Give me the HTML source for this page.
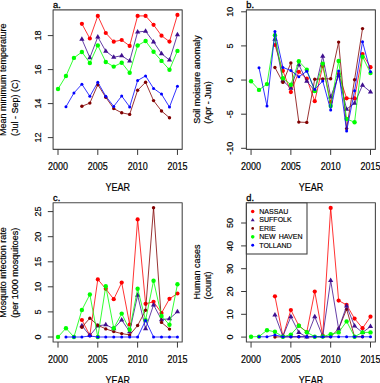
<!DOCTYPE html><html><head><meta charset="utf-8"><style>html,body{margin:0;padding:0;background:#fff;width:380px;height:383px;overflow:hidden}svg{display:block}.t{font-family:"Liberation Sans",sans-serif;font-size:9px;fill:#000;stroke:#000;stroke-width:0.18px}.t10{font-family:"Liberation Sans",sans-serif;font-size:10px;fill:#000;stroke:#000;stroke-width:0.18px}.pl{font-family:"Liberation Sans",sans-serif;font-size:9.3px;fill:#000;stroke:#000;stroke-width:0.3px}.lg{font-family:"Liberation Sans",sans-serif;font-size:7.6px;fill:#000;stroke:#000;stroke-width:0.15px}</style></head><body>
<svg width="380" height="383" viewBox="0 0 380 383">
<rect width="380" height="383" fill="#fff"/>
<polyline points="81.89,23.80 89.85,38.50 97.81,15.90 105.78,33.00 113.74,41.70 121.70,40.00 129.67,45.90 137.63,15.90 145.59,15.90 153.56,24.80 161.52,35.70 169.48,41.60 177.44,14.90" fill="none" stroke="#ff0000" stroke-width="0.8" stroke-linejoin="round"/>
<circle cx="81.89" cy="23.80" r="2.1" fill="#ff0000"/>
<circle cx="89.85" cy="38.50" r="2.1" fill="#ff0000"/>
<circle cx="97.81" cy="15.90" r="2.1" fill="#ff0000"/>
<circle cx="105.78" cy="33.00" r="2.1" fill="#ff0000"/>
<circle cx="113.74" cy="41.70" r="2.1" fill="#ff0000"/>
<circle cx="121.70" cy="40.00" r="2.1" fill="#ff0000"/>
<circle cx="129.67" cy="45.90" r="2.1" fill="#ff0000"/>
<circle cx="137.63" cy="15.90" r="2.1" fill="#ff0000"/>
<circle cx="145.59" cy="15.90" r="2.1" fill="#ff0000"/>
<circle cx="153.56" cy="24.80" r="2.1" fill="#ff0000"/>
<circle cx="161.52" cy="35.70" r="2.1" fill="#ff0000"/>
<circle cx="169.48" cy="41.60" r="2.1" fill="#ff0000"/>
<circle cx="177.44" cy="14.90" r="2.1" fill="#ff0000"/>
<polyline points="81.89,39.20 89.85,57.70 97.81,37.00 105.78,51.20 113.74,57.20 121.70,55.70 129.67,61.00 137.63,32.00 145.59,31.20 153.56,41.90 161.52,53.70 169.48,60.00 177.44,34.70" fill="none" stroke="#3f0f8f" stroke-width="0.8" stroke-linejoin="round"/>
<polygon points="79.29,40.70 84.49,40.70 81.89,36.20" fill="#3f0f8f"/>
<polygon points="87.25,59.20 92.45,59.20 89.85,54.70" fill="#3f0f8f"/>
<polygon points="95.22,38.50 100.41,38.50 97.81,34.00" fill="#3f0f8f"/>
<polygon points="103.18,52.70 108.38,52.70 105.78,48.20" fill="#3f0f8f"/>
<polygon points="111.14,58.70 116.34,58.70 113.74,54.20" fill="#3f0f8f"/>
<polygon points="119.10,57.20 124.30,57.20 121.70,52.70" fill="#3f0f8f"/>
<polygon points="127.07,62.50 132.27,62.50 129.67,58.00" fill="#3f0f8f"/>
<polygon points="135.03,33.50 140.23,33.50 137.63,29.00" fill="#3f0f8f"/>
<polygon points="142.99,32.70 148.19,32.70 145.59,28.20" fill="#3f0f8f"/>
<polygon points="150.96,43.40 156.16,43.40 153.56,38.90" fill="#3f0f8f"/>
<polygon points="158.92,55.20 164.12,55.20 161.52,50.70" fill="#3f0f8f"/>
<polygon points="166.88,61.50 172.08,61.50 169.48,57.00" fill="#3f0f8f"/>
<polygon points="174.84,36.20 180.04,36.20 177.44,31.70" fill="#3f0f8f"/>
<polyline points="81.89,106.30 89.85,103.10 97.81,84.70 105.78,97.30 113.74,108.60 121.70,112.80 129.67,114.40 137.63,90.30 145.59,82.20 153.56,100.60 161.52,111.00 169.48,117.80" fill="none" stroke="#800000" stroke-width="0.8" stroke-linejoin="round"/>
<circle cx="81.89" cy="106.30" r="1.7" fill="#800000"/>
<circle cx="89.85" cy="103.10" r="1.7" fill="#800000"/>
<circle cx="97.81" cy="84.70" r="1.7" fill="#800000"/>
<circle cx="105.78" cy="97.30" r="1.7" fill="#800000"/>
<circle cx="113.74" cy="108.60" r="1.7" fill="#800000"/>
<circle cx="121.70" cy="112.80" r="1.7" fill="#800000"/>
<circle cx="129.67" cy="114.40" r="1.7" fill="#800000"/>
<circle cx="137.63" cy="90.30" r="1.7" fill="#800000"/>
<circle cx="145.59" cy="82.20" r="1.7" fill="#800000"/>
<circle cx="153.56" cy="100.60" r="1.7" fill="#800000"/>
<circle cx="161.52" cy="111.00" r="1.7" fill="#800000"/>
<circle cx="169.48" cy="117.80" r="1.7" fill="#800000"/>
<polyline points="58.00,89.00 65.96,76.00 73.93,57.90 81.89,52.00 89.85,63.00 97.81,45.40 105.78,62.00 113.74,66.60 121.70,62.70 129.67,72.80 137.63,45.50 145.59,41.00 153.56,51.80 161.52,60.90 169.48,69.80 177.44,50.90" fill="none" stroke="#00ff00" stroke-width="0.8" stroke-linejoin="round"/>
<circle cx="58.00" cy="89.00" r="2.2" fill="#00ff00"/>
<circle cx="65.96" cy="76.00" r="2.2" fill="#00ff00"/>
<circle cx="73.93" cy="57.90" r="2.2" fill="#00ff00"/>
<circle cx="81.89" cy="52.00" r="2.2" fill="#00ff00"/>
<circle cx="89.85" cy="63.00" r="2.2" fill="#00ff00"/>
<circle cx="97.81" cy="45.40" r="2.2" fill="#00ff00"/>
<circle cx="105.78" cy="62.00" r="2.2" fill="#00ff00"/>
<circle cx="113.74" cy="66.60" r="2.2" fill="#00ff00"/>
<circle cx="121.70" cy="62.70" r="2.2" fill="#00ff00"/>
<circle cx="129.67" cy="72.80" r="2.2" fill="#00ff00"/>
<circle cx="137.63" cy="45.50" r="2.2" fill="#00ff00"/>
<circle cx="145.59" cy="41.00" r="2.2" fill="#00ff00"/>
<circle cx="153.56" cy="51.80" r="2.2" fill="#00ff00"/>
<circle cx="161.52" cy="60.90" r="2.2" fill="#00ff00"/>
<circle cx="169.48" cy="69.80" r="2.2" fill="#00ff00"/>
<circle cx="177.44" cy="50.90" r="2.2" fill="#00ff00"/>
<polyline points="65.96,106.80 73.93,93.00 81.89,84.20 89.85,96.30 97.81,82.30 105.78,96.20 113.74,106.40 121.70,96.00 129.67,106.90 137.63,80.50 145.59,75.90 153.56,88.40 161.52,94.10 169.48,107.10 177.44,86.20" fill="none" stroke="#0000ff" stroke-width="0.8" stroke-linejoin="round"/>
<circle cx="65.96" cy="106.80" r="1.5" fill="#0000ff"/>
<circle cx="73.93" cy="93.00" r="1.5" fill="#0000ff"/>
<circle cx="81.89" cy="84.20" r="1.5" fill="#0000ff"/>
<circle cx="89.85" cy="96.30" r="1.5" fill="#0000ff"/>
<circle cx="97.81" cy="82.30" r="1.5" fill="#0000ff"/>
<circle cx="105.78" cy="96.20" r="1.5" fill="#0000ff"/>
<circle cx="113.74" cy="106.40" r="1.5" fill="#0000ff"/>
<circle cx="121.70" cy="96.00" r="1.5" fill="#0000ff"/>
<circle cx="129.67" cy="106.90" r="1.5" fill="#0000ff"/>
<circle cx="137.63" cy="80.50" r="1.5" fill="#0000ff"/>
<circle cx="145.59" cy="75.90" r="1.5" fill="#0000ff"/>
<circle cx="153.56" cy="88.40" r="1.5" fill="#0000ff"/>
<circle cx="161.52" cy="94.10" r="1.5" fill="#0000ff"/>
<circle cx="169.48" cy="107.10" r="1.5" fill="#0000ff"/>
<circle cx="177.44" cy="86.20" r="1.5" fill="#0000ff"/>
<rect x="53.1" y="9.9" width="129.10" height="139.45" fill="none" stroke="#4a4a4a" stroke-width="1.1" stroke-linejoin="round"/>
<line x1="58.00" y1="149.35" x2="58.00" y2="154.95" stroke="#383838" stroke-width="1.0"/>
<text transform="translate(58.00,169.85) scale(0.9,1)" class="t10" text-anchor="middle">2000</text>
<line x1="97.81" y1="149.35" x2="97.81" y2="154.95" stroke="#383838" stroke-width="1.0"/>
<text transform="translate(97.81,169.85) scale(0.9,1)" class="t10" text-anchor="middle">2005</text>
<line x1="137.63" y1="149.35" x2="137.63" y2="154.95" stroke="#383838" stroke-width="1.0"/>
<text transform="translate(137.63,169.85) scale(0.9,1)" class="t10" text-anchor="middle">2010</text>
<line x1="177.44" y1="149.35" x2="177.44" y2="154.95" stroke="#383838" stroke-width="1.0"/>
<text transform="translate(177.44,169.85) scale(0.9,1)" class="t10" text-anchor="middle">2015</text>
<text transform="translate(117.65,190.85) scale(0.9,1)" class="t10" text-anchor="middle">YEAR</text>
<line x1="47.80" y1="137.6" x2="53.1" y2="137.6" stroke="#383838" stroke-width="1.0"/>
<text transform="translate(40.7,137.6) rotate(-90)" class="t" text-anchor="middle">12</text>
<line x1="47.80" y1="103.6" x2="53.1" y2="103.6" stroke="#383838" stroke-width="1.0"/>
<text transform="translate(40.7,103.6) rotate(-90)" class="t" text-anchor="middle">14</text>
<line x1="47.80" y1="69.6" x2="53.1" y2="69.6" stroke="#383838" stroke-width="1.0"/>
<text transform="translate(40.7,69.6) rotate(-90)" class="t" text-anchor="middle">16</text>
<line x1="47.80" y1="35.6" x2="53.1" y2="35.6" stroke="#383838" stroke-width="1.0"/>
<text transform="translate(40.7,35.6) rotate(-90)" class="t" text-anchor="middle">18</text>
<text transform="translate(6.2,136.1) rotate(-90)" class="t">Mean minimum temperature</text>
<text transform="translate(17.8,136.1) rotate(-90)" class="t">(Jul - Sep) (C)</text>
<text x="53.00" y="7.70" class="pl">a.</text>
<polyline points="274.94,45.00 282.90,70.80 290.87,92.10 298.83,71.80 306.79,78.70 314.75,101.20 322.72,66.00 330.68,102.00 338.64,74.00 346.61,98.30 354.57,98.40 362.53,54.10 370.50,67.20" fill="none" stroke="#ff0000" stroke-width="0.8" stroke-linejoin="round"/>
<circle cx="274.94" cy="45.00" r="2.1" fill="#ff0000"/>
<circle cx="282.90" cy="70.80" r="2.1" fill="#ff0000"/>
<circle cx="290.87" cy="92.10" r="2.1" fill="#ff0000"/>
<circle cx="298.83" cy="71.80" r="2.1" fill="#ff0000"/>
<circle cx="306.79" cy="78.70" r="2.1" fill="#ff0000"/>
<circle cx="314.75" cy="101.20" r="2.1" fill="#ff0000"/>
<circle cx="322.72" cy="66.00" r="2.1" fill="#ff0000"/>
<circle cx="330.68" cy="102.00" r="2.1" fill="#ff0000"/>
<circle cx="338.64" cy="74.00" r="2.1" fill="#ff0000"/>
<circle cx="346.61" cy="98.30" r="2.1" fill="#ff0000"/>
<circle cx="354.57" cy="98.40" r="2.1" fill="#ff0000"/>
<circle cx="362.53" cy="54.10" r="2.1" fill="#ff0000"/>
<circle cx="370.50" cy="67.20" r="2.1" fill="#ff0000"/>
<polyline points="274.94,39.20 282.90,80.70 290.87,88.30 298.83,64.70 306.79,81.30 314.75,90.70 322.72,56.20 330.68,96.90 338.64,75.70 346.61,109.20 354.57,103.20 362.53,85.30 370.50,91.90" fill="none" stroke="#3f0f8f" stroke-width="0.8" stroke-linejoin="round"/>
<polygon points="272.34,40.70 277.54,40.70 274.94,36.20" fill="#3f0f8f"/>
<polygon points="280.30,82.20 285.50,82.20 282.90,77.70" fill="#3f0f8f"/>
<polygon points="288.26,89.80 293.47,89.80 290.87,85.30" fill="#3f0f8f"/>
<polygon points="296.23,66.20 301.43,66.20 298.83,61.70" fill="#3f0f8f"/>
<polygon points="304.19,82.80 309.39,82.80 306.79,78.30" fill="#3f0f8f"/>
<polygon points="312.15,92.20 317.35,92.20 314.75,87.70" fill="#3f0f8f"/>
<polygon points="320.12,57.70 325.32,57.70 322.72,53.20" fill="#3f0f8f"/>
<polygon points="328.08,98.40 333.28,98.40 330.68,93.90" fill="#3f0f8f"/>
<polygon points="336.04,77.20 341.24,77.20 338.64,72.70" fill="#3f0f8f"/>
<polygon points="344.01,110.70 349.21,110.70 346.61,106.20" fill="#3f0f8f"/>
<polygon points="351.97,104.70 357.17,104.70 354.57,100.20" fill="#3f0f8f"/>
<polygon points="359.93,86.80 365.13,86.80 362.53,82.30" fill="#3f0f8f"/>
<polygon points="367.89,93.40 373.10,93.40 370.50,88.90" fill="#3f0f8f"/>
<polyline points="274.94,67.50 282.90,82.40 290.87,62.90 298.83,122.10 306.79,122.40 314.75,79.20 322.72,78.90 330.68,78.80 338.64,42.10 346.61,128.60 354.57,79.70 362.53,28.60" fill="none" stroke="#800000" stroke-width="0.8" stroke-linejoin="round"/>
<circle cx="274.94" cy="67.50" r="1.7" fill="#800000"/>
<circle cx="282.90" cy="82.40" r="1.7" fill="#800000"/>
<circle cx="290.87" cy="62.90" r="1.7" fill="#800000"/>
<circle cx="298.83" cy="122.10" r="1.7" fill="#800000"/>
<circle cx="306.79" cy="122.40" r="1.7" fill="#800000"/>
<circle cx="314.75" cy="79.20" r="1.7" fill="#800000"/>
<circle cx="322.72" cy="78.90" r="1.7" fill="#800000"/>
<circle cx="330.68" cy="78.80" r="1.7" fill="#800000"/>
<circle cx="338.64" cy="42.10" r="1.7" fill="#800000"/>
<circle cx="346.61" cy="128.60" r="1.7" fill="#800000"/>
<circle cx="354.57" cy="79.70" r="1.7" fill="#800000"/>
<circle cx="362.53" cy="28.60" r="1.7" fill="#800000"/>
<polyline points="251.05,81.20 259.01,89.90 266.98,84.10 274.94,35.20 282.90,78.20 290.87,84.70 298.83,61.30 306.79,69.70 314.75,91.10 322.72,63.60 330.68,106.00 338.64,61.00 346.61,119.00 354.57,122.20 362.53,56.70 370.50,73.10" fill="none" stroke="#00ff00" stroke-width="0.8" stroke-linejoin="round"/>
<circle cx="251.05" cy="81.20" r="2.2" fill="#00ff00"/>
<circle cx="259.01" cy="89.90" r="2.2" fill="#00ff00"/>
<circle cx="266.98" cy="84.10" r="2.2" fill="#00ff00"/>
<circle cx="274.94" cy="35.20" r="2.2" fill="#00ff00"/>
<circle cx="282.90" cy="78.20" r="2.2" fill="#00ff00"/>
<circle cx="290.87" cy="84.70" r="2.2" fill="#00ff00"/>
<circle cx="298.83" cy="61.30" r="2.2" fill="#00ff00"/>
<circle cx="306.79" cy="69.70" r="2.2" fill="#00ff00"/>
<circle cx="314.75" cy="91.10" r="2.2" fill="#00ff00"/>
<circle cx="322.72" cy="63.60" r="2.2" fill="#00ff00"/>
<circle cx="330.68" cy="106.00" r="2.2" fill="#00ff00"/>
<circle cx="338.64" cy="61.00" r="2.2" fill="#00ff00"/>
<circle cx="346.61" cy="119.00" r="2.2" fill="#00ff00"/>
<circle cx="354.57" cy="122.20" r="2.2" fill="#00ff00"/>
<circle cx="362.53" cy="56.70" r="2.2" fill="#00ff00"/>
<circle cx="370.50" cy="73.10" r="2.2" fill="#00ff00"/>
<polyline points="259.01,67.70 266.98,106.00 274.94,31.50 282.90,67.40 290.87,70.50 298.83,76.80 306.79,71.20 314.75,89.60 322.72,80.90 330.68,110.10 338.64,70.90 346.61,131.00 354.57,90.80 362.53,41.70 370.50,71.80" fill="none" stroke="#0000ff" stroke-width="0.8" stroke-linejoin="round"/>
<circle cx="259.01" cy="67.70" r="1.5" fill="#0000ff"/>
<circle cx="266.98" cy="106.00" r="1.5" fill="#0000ff"/>
<circle cx="274.94" cy="31.50" r="1.5" fill="#0000ff"/>
<circle cx="282.90" cy="67.40" r="1.5" fill="#0000ff"/>
<circle cx="290.87" cy="70.50" r="1.5" fill="#0000ff"/>
<circle cx="298.83" cy="76.80" r="1.5" fill="#0000ff"/>
<circle cx="306.79" cy="71.20" r="1.5" fill="#0000ff"/>
<circle cx="314.75" cy="89.60" r="1.5" fill="#0000ff"/>
<circle cx="322.72" cy="80.90" r="1.5" fill="#0000ff"/>
<circle cx="330.68" cy="110.10" r="1.5" fill="#0000ff"/>
<circle cx="338.64" cy="70.90" r="1.5" fill="#0000ff"/>
<circle cx="346.61" cy="131.00" r="1.5" fill="#0000ff"/>
<circle cx="354.57" cy="90.80" r="1.5" fill="#0000ff"/>
<circle cx="362.53" cy="41.70" r="1.5" fill="#0000ff"/>
<circle cx="370.50" cy="71.80" r="1.5" fill="#0000ff"/>
<rect x="246.4" y="9.9" width="129.00" height="139.45" fill="none" stroke="#4a4a4a" stroke-width="1.1" stroke-linejoin="round"/>
<line x1="251.05" y1="149.35" x2="251.05" y2="154.95" stroke="#383838" stroke-width="1.0"/>
<text transform="translate(251.05,169.85) scale(0.9,1)" class="t10" text-anchor="middle">2000</text>
<line x1="290.87" y1="149.35" x2="290.87" y2="154.95" stroke="#383838" stroke-width="1.0"/>
<text transform="translate(290.87,169.85) scale(0.9,1)" class="t10" text-anchor="middle">2005</text>
<line x1="330.68" y1="149.35" x2="330.68" y2="154.95" stroke="#383838" stroke-width="1.0"/>
<text transform="translate(330.68,169.85) scale(0.9,1)" class="t10" text-anchor="middle">2010</text>
<line x1="370.50" y1="149.35" x2="370.50" y2="154.95" stroke="#383838" stroke-width="1.0"/>
<text transform="translate(370.50,169.85) scale(0.9,1)" class="t10" text-anchor="middle">2015</text>
<text transform="translate(310.90,190.85) scale(0.9,1)" class="t10" text-anchor="middle">YEAR</text>
<line x1="241.10" y1="148.3" x2="246.4" y2="148.3" stroke="#383838" stroke-width="1.0"/>
<text transform="translate(233.0,148.3) rotate(-90)" class="t" text-anchor="middle">-10</text>
<line x1="241.10" y1="114.2" x2="246.4" y2="114.2" stroke="#383838" stroke-width="1.0"/>
<text transform="translate(233.0,114.2) rotate(-90)" class="t" text-anchor="middle">-5</text>
<line x1="241.10" y1="80.05" x2="246.4" y2="80.05" stroke="#383838" stroke-width="1.0"/>
<text transform="translate(233.0,80.05) rotate(-90)" class="t" text-anchor="middle">0</text>
<line x1="241.10" y1="45.9" x2="246.4" y2="45.9" stroke="#383838" stroke-width="1.0"/>
<text transform="translate(233.0,45.9) rotate(-90)" class="t" text-anchor="middle">5</text>
<line x1="241.10" y1="11.8" x2="246.4" y2="11.8" stroke="#383838" stroke-width="1.0"/>
<text transform="translate(233.0,11.8) rotate(-90)" class="t" text-anchor="middle">10</text>
<text transform="translate(200.0,123.8) rotate(-90)" class="t">Soil moisture anomaly</text>
<text transform="translate(211.0,123.8) rotate(-90)" class="t">(Apr - Jun)</text>
<text x="246.30" y="7.70" class="pl">b.</text>
<polyline points="81.89,320.00 89.85,335.30 97.81,279.40 105.78,288.80 113.74,299.20 121.70,282.60 129.67,324.50 137.63,219.40 145.59,303.80 153.56,301.80 161.52,313.00 169.48,298.80 177.44,293.50" fill="none" stroke="#ff0000" stroke-width="0.8" stroke-linejoin="round"/>
<circle cx="81.89" cy="320.00" r="2.1" fill="#ff0000"/>
<circle cx="89.85" cy="335.30" r="2.1" fill="#ff0000"/>
<circle cx="97.81" cy="279.40" r="2.1" fill="#ff0000"/>
<circle cx="105.78" cy="288.80" r="2.1" fill="#ff0000"/>
<circle cx="113.74" cy="299.20" r="2.1" fill="#ff0000"/>
<circle cx="121.70" cy="282.60" r="2.1" fill="#ff0000"/>
<circle cx="129.67" cy="324.50" r="2.1" fill="#ff0000"/>
<circle cx="137.63" cy="219.40" r="2.1" fill="#ff0000"/>
<circle cx="145.59" cy="303.80" r="2.1" fill="#ff0000"/>
<circle cx="153.56" cy="301.80" r="2.1" fill="#ff0000"/>
<circle cx="161.52" cy="313.00" r="2.1" fill="#ff0000"/>
<circle cx="169.48" cy="298.80" r="2.1" fill="#ff0000"/>
<circle cx="177.44" cy="293.50" r="2.1" fill="#ff0000"/>
<polyline points="81.89,325.70 89.85,335.50 97.81,325.90 105.78,324.70 113.74,328.70 121.70,320.00 129.67,331.70 137.63,295.20 145.59,328.70 153.56,304.90 161.52,319.70 169.48,318.70 177.44,311.80" fill="none" stroke="#3f0f8f" stroke-width="0.8" stroke-linejoin="round"/>
<polygon points="79.29,327.20 84.49,327.20 81.89,322.70" fill="#3f0f8f"/>
<polygon points="87.25,337.00 92.45,337.00 89.85,332.50" fill="#3f0f8f"/>
<polygon points="95.22,327.40 100.41,327.40 97.81,322.90" fill="#3f0f8f"/>
<polygon points="103.18,326.20 108.38,326.20 105.78,321.70" fill="#3f0f8f"/>
<polygon points="111.14,330.20 116.34,330.20 113.74,325.70" fill="#3f0f8f"/>
<polygon points="119.10,321.50 124.30,321.50 121.70,317.00" fill="#3f0f8f"/>
<polygon points="127.07,333.20 132.27,333.20 129.67,328.70" fill="#3f0f8f"/>
<polygon points="135.03,296.70 140.23,296.70 137.63,292.20" fill="#3f0f8f"/>
<polygon points="142.99,330.20 148.19,330.20 145.59,325.70" fill="#3f0f8f"/>
<polygon points="150.96,306.40 156.16,306.40 153.56,301.90" fill="#3f0f8f"/>
<polygon points="158.92,321.20 164.12,321.20 161.52,316.70" fill="#3f0f8f"/>
<polygon points="166.88,320.20 172.08,320.20 169.48,315.70" fill="#3f0f8f"/>
<polygon points="174.84,313.30 180.04,313.30 177.44,308.80" fill="#3f0f8f"/>
<polyline points="81.89,327.20 89.85,318.20 97.81,325.20 105.78,328.90 113.74,331.60 121.70,333.60 129.67,334.90 137.63,325.50 145.59,310.30 153.56,207.70 161.52,322.40 169.48,329.10" fill="none" stroke="#800000" stroke-width="0.8" stroke-linejoin="round"/>
<circle cx="81.89" cy="327.20" r="1.7" fill="#800000"/>
<circle cx="89.85" cy="318.20" r="1.7" fill="#800000"/>
<circle cx="97.81" cy="325.20" r="1.7" fill="#800000"/>
<circle cx="105.78" cy="328.90" r="1.7" fill="#800000"/>
<circle cx="113.74" cy="331.60" r="1.7" fill="#800000"/>
<circle cx="121.70" cy="333.60" r="1.7" fill="#800000"/>
<circle cx="129.67" cy="334.90" r="1.7" fill="#800000"/>
<circle cx="137.63" cy="325.50" r="1.7" fill="#800000"/>
<circle cx="145.59" cy="310.30" r="1.7" fill="#800000"/>
<circle cx="153.56" cy="207.70" r="1.7" fill="#800000"/>
<circle cx="161.52" cy="322.40" r="1.7" fill="#800000"/>
<circle cx="169.48" cy="329.10" r="1.7" fill="#800000"/>
<polyline points="58.00,337.00 65.96,328.20 73.93,337.00 81.89,310.00 89.85,294.50 97.81,337.00 105.78,286.20 113.74,328.30 121.70,313.60 129.67,329.80 137.63,288.80 145.59,320.20 153.56,280.80 161.52,316.00 169.48,324.80 177.44,284.30" fill="none" stroke="#00ff00" stroke-width="0.8" stroke-linejoin="round"/>
<circle cx="58.00" cy="337.00" r="2.2" fill="#00ff00"/>
<circle cx="65.96" cy="328.20" r="2.2" fill="#00ff00"/>
<circle cx="73.93" cy="337.00" r="2.2" fill="#00ff00"/>
<circle cx="81.89" cy="310.00" r="2.2" fill="#00ff00"/>
<circle cx="89.85" cy="294.50" r="2.2" fill="#00ff00"/>
<circle cx="97.81" cy="337.00" r="2.2" fill="#00ff00"/>
<circle cx="105.78" cy="286.20" r="2.2" fill="#00ff00"/>
<circle cx="113.74" cy="328.30" r="2.2" fill="#00ff00"/>
<circle cx="121.70" cy="313.60" r="2.2" fill="#00ff00"/>
<circle cx="129.67" cy="329.80" r="2.2" fill="#00ff00"/>
<circle cx="137.63" cy="288.80" r="2.2" fill="#00ff00"/>
<circle cx="145.59" cy="320.20" r="2.2" fill="#00ff00"/>
<circle cx="153.56" cy="280.80" r="2.2" fill="#00ff00"/>
<circle cx="161.52" cy="316.00" r="2.2" fill="#00ff00"/>
<circle cx="169.48" cy="324.80" r="2.2" fill="#00ff00"/>
<circle cx="177.44" cy="284.30" r="2.2" fill="#00ff00"/>
<polyline points="65.96,337.00 73.93,337.00 81.89,337.00 89.85,336.00 97.81,337.00 105.78,337.00 113.74,337.00 121.70,337.00 129.67,337.00 137.63,337.00 145.59,320.50 153.56,337.00 161.52,337.00 169.48,337.00 177.44,337.00" fill="none" stroke="#0000ff" stroke-width="0.8" stroke-linejoin="round"/>
<circle cx="65.96" cy="337.00" r="1.5" fill="#0000ff"/>
<circle cx="73.93" cy="337.00" r="1.5" fill="#0000ff"/>
<circle cx="81.89" cy="337.00" r="1.5" fill="#0000ff"/>
<circle cx="89.85" cy="336.00" r="1.5" fill="#0000ff"/>
<circle cx="97.81" cy="337.00" r="1.5" fill="#0000ff"/>
<circle cx="105.78" cy="337.00" r="1.5" fill="#0000ff"/>
<circle cx="113.74" cy="337.00" r="1.5" fill="#0000ff"/>
<circle cx="121.70" cy="337.00" r="1.5" fill="#0000ff"/>
<circle cx="129.67" cy="337.00" r="1.5" fill="#0000ff"/>
<circle cx="137.63" cy="337.00" r="1.5" fill="#0000ff"/>
<circle cx="145.59" cy="320.50" r="1.5" fill="#0000ff"/>
<circle cx="153.56" cy="337.00" r="1.5" fill="#0000ff"/>
<circle cx="161.52" cy="337.00" r="1.5" fill="#0000ff"/>
<circle cx="169.48" cy="337.00" r="1.5" fill="#0000ff"/>
<circle cx="177.44" cy="337.00" r="1.5" fill="#0000ff"/>
<rect x="53.1" y="202.8" width="129.10" height="139.20" fill="none" stroke="#4a4a4a" stroke-width="1.1" stroke-linejoin="round"/>
<line x1="58.00" y1="342.0" x2="58.00" y2="347.6" stroke="#383838" stroke-width="1.0"/>
<text transform="translate(58.00,362.50) scale(0.9,1)" class="t10" text-anchor="middle">2000</text>
<line x1="97.81" y1="342.0" x2="97.81" y2="347.6" stroke="#383838" stroke-width="1.0"/>
<text transform="translate(97.81,362.50) scale(0.9,1)" class="t10" text-anchor="middle">2005</text>
<line x1="137.63" y1="342.0" x2="137.63" y2="347.6" stroke="#383838" stroke-width="1.0"/>
<text transform="translate(137.63,362.50) scale(0.9,1)" class="t10" text-anchor="middle">2010</text>
<line x1="177.44" y1="342.0" x2="177.44" y2="347.6" stroke="#383838" stroke-width="1.0"/>
<text transform="translate(177.44,362.50) scale(0.9,1)" class="t10" text-anchor="middle">2015</text>
<text transform="translate(117.65,384.00) scale(0.9,1)" class="t10" text-anchor="middle">YEAR</text>
<line x1="47.80" y1="337.0" x2="53.1" y2="337.0" stroke="#383838" stroke-width="1.0"/>
<text transform="translate(40.7,337.0) rotate(-90)" class="t" text-anchor="middle">0</text>
<line x1="47.80" y1="311.9" x2="53.1" y2="311.9" stroke="#383838" stroke-width="1.0"/>
<text transform="translate(40.7,311.9) rotate(-90)" class="t" text-anchor="middle">5</text>
<line x1="47.80" y1="286.8" x2="53.1" y2="286.8" stroke="#383838" stroke-width="1.0"/>
<text transform="translate(40.7,286.8) rotate(-90)" class="t" text-anchor="middle">10</text>
<line x1="47.80" y1="261.8" x2="53.1" y2="261.8" stroke="#383838" stroke-width="1.0"/>
<text transform="translate(40.7,261.8) rotate(-90)" class="t" text-anchor="middle">15</text>
<line x1="47.80" y1="236.7" x2="53.1" y2="236.7" stroke="#383838" stroke-width="1.0"/>
<text transform="translate(40.7,236.7) rotate(-90)" class="t" text-anchor="middle">20</text>
<line x1="47.80" y1="211.6" x2="53.1" y2="211.6" stroke="#383838" stroke-width="1.0"/>
<text transform="translate(40.7,211.6) rotate(-90)" class="t" text-anchor="middle">25</text>
<text transform="translate(6.2,317.8) rotate(-90)" class="t">Mosquito infection rate</text>
<text transform="translate(17.8,317.8) rotate(-90)" class="t">(per 1000 mosquitoes)</text>
<text x="53.00" y="200.60" class="pl">c.</text>
<polyline points="274.94,296.30 282.90,336.40 290.87,310.00 298.83,325.70 306.79,332.00 314.75,291.60 322.72,335.70 330.68,207.90 338.64,300.60 346.61,304.90 354.57,318.60 362.53,328.20 370.50,316.70" fill="none" stroke="#ff0000" stroke-width="0.8" stroke-linejoin="round"/>
<circle cx="274.94" cy="296.30" r="2.1" fill="#ff0000"/>
<circle cx="282.90" cy="336.40" r="2.1" fill="#ff0000"/>
<circle cx="290.87" cy="310.00" r="2.1" fill="#ff0000"/>
<circle cx="298.83" cy="325.70" r="2.1" fill="#ff0000"/>
<circle cx="306.79" cy="332.00" r="2.1" fill="#ff0000"/>
<circle cx="314.75" cy="291.60" r="2.1" fill="#ff0000"/>
<circle cx="322.72" cy="335.70" r="2.1" fill="#ff0000"/>
<circle cx="330.68" cy="207.90" r="2.1" fill="#ff0000"/>
<circle cx="338.64" cy="300.60" r="2.1" fill="#ff0000"/>
<circle cx="346.61" cy="304.90" r="2.1" fill="#ff0000"/>
<circle cx="354.57" cy="318.60" r="2.1" fill="#ff0000"/>
<circle cx="362.53" cy="328.20" r="2.1" fill="#ff0000"/>
<circle cx="370.50" cy="316.70" r="2.1" fill="#ff0000"/>
<polyline points="274.94,337.00 282.90,336.80 290.87,336.80 298.83,336.80 306.79,336.80 314.75,336.80 322.72,336.80 330.68,336.80 338.64,328.80 346.61,309.20 354.57,336.70 362.53,336.80" fill="none" stroke="#800000" stroke-width="0.8" stroke-linejoin="round"/>
<circle cx="274.94" cy="337.00" r="1.7" fill="#800000"/>
<circle cx="282.90" cy="336.80" r="1.7" fill="#800000"/>
<circle cx="290.87" cy="336.80" r="1.7" fill="#800000"/>
<circle cx="298.83" cy="336.80" r="1.7" fill="#800000"/>
<circle cx="306.79" cy="336.80" r="1.7" fill="#800000"/>
<circle cx="314.75" cy="336.80" r="1.7" fill="#800000"/>
<circle cx="322.72" cy="336.80" r="1.7" fill="#800000"/>
<circle cx="330.68" cy="336.80" r="1.7" fill="#800000"/>
<circle cx="338.64" cy="328.80" r="1.7" fill="#800000"/>
<circle cx="346.61" cy="309.20" r="1.7" fill="#800000"/>
<circle cx="354.57" cy="336.70" r="1.7" fill="#800000"/>
<circle cx="362.53" cy="336.80" r="1.7" fill="#800000"/>
<polyline points="274.94,314.90 282.90,336.30 290.87,316.80 298.83,332.50 306.79,337.10 314.75,316.80 322.72,336.40 330.68,280.50 338.64,328.90 346.61,306.00 354.57,326.00 362.53,332.50 370.50,326.60" fill="none" stroke="#3f0f8f" stroke-width="0.8" stroke-linejoin="round"/>
<polygon points="272.34,316.40 277.54,316.40 274.94,311.90" fill="#3f0f8f"/>
<polygon points="280.30,337.80 285.50,337.80 282.90,333.30" fill="#3f0f8f"/>
<polygon points="288.26,318.30 293.47,318.30 290.87,313.80" fill="#3f0f8f"/>
<polygon points="296.23,334.00 301.43,334.00 298.83,329.50" fill="#3f0f8f"/>
<polygon points="304.19,338.60 309.39,338.60 306.79,334.10" fill="#3f0f8f"/>
<polygon points="312.15,318.30 317.35,318.30 314.75,313.80" fill="#3f0f8f"/>
<polygon points="320.12,337.90 325.32,337.90 322.72,333.40" fill="#3f0f8f"/>
<polygon points="328.08,282.00 333.28,282.00 330.68,277.50" fill="#3f0f8f"/>
<polygon points="336.04,330.40 341.24,330.40 338.64,325.90" fill="#3f0f8f"/>
<polygon points="344.01,307.50 349.21,307.50 346.61,303.00" fill="#3f0f8f"/>
<polygon points="351.97,327.50 357.17,327.50 354.57,323.00" fill="#3f0f8f"/>
<polygon points="359.93,334.00 365.13,334.00 362.53,329.50" fill="#3f0f8f"/>
<polygon points="367.89,328.10 373.10,328.10 370.50,323.60" fill="#3f0f8f"/>
<polyline points="251.05,336.80 259.01,336.60 266.98,330.20 274.94,331.80 282.90,336.80 290.87,334.60 298.83,325.70 306.79,332.20 314.75,336.70 322.72,336.50 330.68,334.30 338.64,332.40 346.61,321.40 354.57,336.70 362.53,332.40 370.50,332.40" fill="none" stroke="#00ff00" stroke-width="0.8" stroke-linejoin="round"/>
<circle cx="251.05" cy="336.80" r="2.2" fill="#00ff00"/>
<circle cx="259.01" cy="336.60" r="2.2" fill="#00ff00"/>
<circle cx="266.98" cy="330.20" r="2.2" fill="#00ff00"/>
<circle cx="274.94" cy="331.80" r="2.2" fill="#00ff00"/>
<circle cx="282.90" cy="336.80" r="2.2" fill="#00ff00"/>
<circle cx="290.87" cy="334.60" r="2.2" fill="#00ff00"/>
<circle cx="298.83" cy="325.70" r="2.2" fill="#00ff00"/>
<circle cx="306.79" cy="332.20" r="2.2" fill="#00ff00"/>
<circle cx="314.75" cy="336.70" r="2.2" fill="#00ff00"/>
<circle cx="322.72" cy="336.50" r="2.2" fill="#00ff00"/>
<circle cx="330.68" cy="334.30" r="2.2" fill="#00ff00"/>
<circle cx="338.64" cy="332.40" r="2.2" fill="#00ff00"/>
<circle cx="346.61" cy="321.40" r="2.2" fill="#00ff00"/>
<circle cx="354.57" cy="336.70" r="2.2" fill="#00ff00"/>
<circle cx="362.53" cy="332.40" r="2.2" fill="#00ff00"/>
<circle cx="370.50" cy="332.40" r="2.2" fill="#00ff00"/>
<polyline points="259.01,336.80 266.98,336.80 274.94,335.00 282.90,336.80 290.87,336.80 298.83,336.80 306.79,336.80 314.75,336.80 322.72,336.80 330.68,336.80 338.64,336.80 346.61,336.80 354.57,336.80 362.53,336.80 370.50,336.80" fill="none" stroke="#0000ff" stroke-width="0.8" stroke-linejoin="round"/>
<circle cx="259.01" cy="336.80" r="1.5" fill="#0000ff"/>
<circle cx="266.98" cy="336.80" r="1.5" fill="#0000ff"/>
<circle cx="274.94" cy="335.00" r="1.5" fill="#0000ff"/>
<circle cx="282.90" cy="336.80" r="1.5" fill="#0000ff"/>
<circle cx="290.87" cy="336.80" r="1.5" fill="#0000ff"/>
<circle cx="298.83" cy="336.80" r="1.5" fill="#0000ff"/>
<circle cx="306.79" cy="336.80" r="1.5" fill="#0000ff"/>
<circle cx="314.75" cy="336.80" r="1.5" fill="#0000ff"/>
<circle cx="322.72" cy="336.80" r="1.5" fill="#0000ff"/>
<circle cx="330.68" cy="336.80" r="1.5" fill="#0000ff"/>
<circle cx="338.64" cy="336.80" r="1.5" fill="#0000ff"/>
<circle cx="346.61" cy="336.80" r="1.5" fill="#0000ff"/>
<circle cx="354.57" cy="336.80" r="1.5" fill="#0000ff"/>
<circle cx="362.53" cy="336.80" r="1.5" fill="#0000ff"/>
<circle cx="370.50" cy="336.80" r="1.5" fill="#0000ff"/>
<rect x="246.4" y="202.8" width="129.00" height="139.20" fill="none" stroke="#4a4a4a" stroke-width="1.1" stroke-linejoin="round"/>
<line x1="251.05" y1="342.0" x2="251.05" y2="347.6" stroke="#383838" stroke-width="1.0"/>
<text transform="translate(251.05,362.50) scale(0.9,1)" class="t10" text-anchor="middle">2000</text>
<line x1="290.87" y1="342.0" x2="290.87" y2="347.6" stroke="#383838" stroke-width="1.0"/>
<text transform="translate(290.87,362.50) scale(0.9,1)" class="t10" text-anchor="middle">2005</text>
<line x1="330.68" y1="342.0" x2="330.68" y2="347.6" stroke="#383838" stroke-width="1.0"/>
<text transform="translate(330.68,362.50) scale(0.9,1)" class="t10" text-anchor="middle">2010</text>
<line x1="370.50" y1="342.0" x2="370.50" y2="347.6" stroke="#383838" stroke-width="1.0"/>
<text transform="translate(370.50,362.50) scale(0.9,1)" class="t10" text-anchor="middle">2015</text>
<text transform="translate(310.90,384.00) scale(0.9,1)" class="t10" text-anchor="middle">YEAR</text>
<line x1="241.10" y1="337.1" x2="246.4" y2="337.1" stroke="#383838" stroke-width="1.0"/>
<text transform="translate(233.0,337.1) rotate(-90)" class="t" text-anchor="middle">0</text>
<line x1="241.10" y1="314.3" x2="246.4" y2="314.3" stroke="#383838" stroke-width="1.0"/>
<text transform="translate(233.0,314.3) rotate(-90)" class="t" text-anchor="middle">10</text>
<line x1="241.10" y1="291.5" x2="246.4" y2="291.5" stroke="#383838" stroke-width="1.0"/>
<text transform="translate(233.0,291.5) rotate(-90)" class="t" text-anchor="middle">20</text>
<line x1="241.10" y1="268.7" x2="246.4" y2="268.7" stroke="#383838" stroke-width="1.0"/>
<text transform="translate(233.0,268.7) rotate(-90)" class="t" text-anchor="middle">30</text>
<line x1="241.10" y1="245.9" x2="246.4" y2="245.9" stroke="#383838" stroke-width="1.0"/>
<text transform="translate(233.0,245.9) rotate(-90)" class="t" text-anchor="middle">40</text>
<line x1="241.10" y1="223.0" x2="246.4" y2="223.0" stroke="#383838" stroke-width="1.0"/>
<text transform="translate(233.0,223.0) rotate(-90)" class="t" text-anchor="middle">50</text>
<text transform="translate(200.0,299.5) rotate(-90)" class="t">Human cases</text>
<text transform="translate(211.0,299.5) rotate(-90)" class="t">(count)</text>
<text x="246.30" y="200.60" class="pl">d.</text>
<rect x="246.4" y="202.9" width="60.60" height="51.10" fill="#fff" stroke="#444" stroke-width="1.1"/>
<circle cx="252.7" cy="211.50" r="1.75" fill="#ff0000"/>
<text transform="translate(259.2,214.00) scale(0.93,1)" class="lg">NASSAU</text>
<polygon points="250.75,221.28 254.65,221.28 252.70,217.90" fill="#3f0f8f"/>
<text transform="translate(259.2,222.45) scale(0.93,1)" class="lg">SUFFOLK</text>
<circle cx="252.7" cy="228.40" r="1.3" fill="#800000"/>
<text transform="translate(259.2,230.90) scale(0.93,1)" class="lg">ERIE</text>
<circle cx="252.7" cy="236.85" r="1.8" fill="#00ff00"/>
<text transform="translate(259.2,239.35) scale(0.93,1)" class="lg" word-spacing="1.2">NEW HAVEN</text>
<circle cx="252.7" cy="245.30" r="1.45" fill="#0000ff"/>
<text transform="translate(259.2,247.80) scale(0.93,1)" class="lg">TOLLAND</text>
</svg></body></html>
